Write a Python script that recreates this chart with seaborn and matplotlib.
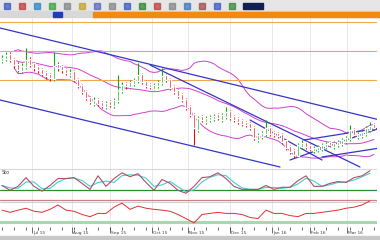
import numpy as np
import pandas as pd
import matplotlib
matplotlib.use("Agg")
import matplotlib.pyplot as plt
import seaborn as sns
from matplotlib.patches import Rectangle

# ---------------- data ----------------
opens = [139,141,146,141,136,129,133,141,137,134,131,128,126,121,136,134,131,125,129,121,
         115,109,103,96,101,98,93,99,94,99,109,117,113,116,119,126,119,116,111,114,
         117,125,121,114,110,106,101,94,86,70,84,78,80,81,86,80,83,89,84,82,
         80,78,77,73,60,63,66,73,68,67,66,60,54,50,44,53,58,55,49,50,
         51,53,58,53,55,56,58,61,71,63,64,66,70,76]
closes = [142,145,140,135,130,134,140,135,132,130,126,124,122,134,132,130,127,128,120,114,
          108,102,98,100,96,94,97,95,100,110,115,114,118,120,125,118,114,113,115,118,
          124,120,112,108,104,100,92,85,72,82,80,82,83,84,82,85,88,82,80,78,
          76,75,72,62,65,67,72,66,65,64,58,52,48,45,55,57,53,51,52,53,
          55,56,55,57,58,60,62,70,65,66,68,72,74,72]
highs = [145,148,148,142,138,137,152,143,138,135,132,129,127,148,138,135,132,131,130,122,
         116,110,104,103,102,99,99,100,102,125,118,118,120,122,137,127,120,117,117,120,
         132,126,122,115,111,107,102,95,87,84,85,84,85,86,87,87,93,90,85,83,
         81,79,78,74,67,69,80,74,69,68,67,61,55,51,57,60,59,56,54,55,
         57,58,59,59,60,62,64,75,72,68,70,74,78,77]
lows = [137,139,138,132,128,127,131,133,129,127,124,121,119,119,129,127,125,123,118,112,
        106,100,96,94,94,92,91,93,92,97,107,111,111,114,117,116,112,111,110,112,
        115,118,110,106,102,98,90,83,55,68,78,76,78,79,80,78,81,80,78,76,
        74,73,70,60,58,61,64,64,63,62,56,50,46,42,43,51,51,49,47,48,
        49,51,53,51,53,54,56,59,63,61,62,64,68,70]

stoch_k = [45,29,42,71,42,26,45,68,68,71,52,32,77,42,68,87,74,84,55,29,
           65,52,29,19,42,71,74,87,68,42,32,32,32,45,32,39,39,61,77,42,
           42,52,58,55,71,77,94]
rsi = [62,54,62,69,58,54,65,81,62,58,46,38,50,50,73,88,65,77,69,65,
       62,58,46,31,15,46,50,54,50,50,46,35,31,62,50,50,42,38,50,50,
       54,58,62,69,73,81,96]

levels = [178, 149, 120]   # horizontal orange levels

# trend lines: (x0, y0, x1, y1) in candle index / price units
trend_lines = [(-0.5, 172, 94.5, 80),
               (-0.5, 100, 69.5, 33),
               (37.0, 135, 89.5, 33),
               (62.0, 80, 80.0, 40),
               (72.0, 40, 94.5, 72),
               (75.5, 60, 94.5, 72),
               (80.0, 43, 94.5, 52)]

date_labels = ["Jul 15", "Aug 15", "Sep 15", "Oct 15", "Nov 15", "Dec 15", "Jan 16", "Feb 16", "Mar 16"]
date_pos = [7.5, 17.5, 27, 37.5, 46.5, 57, 67.5, 77, 86.25]

# ---------------- figure ----------------
sns.set_style("white")
plt.rcParams['font.family'] = ['DejaVu Sans']
W, H = 380, 240
fig = plt.figure(figsize=(3.8, 2.4), dpi=100)
fig.patch.set_facecolor("white")

def fr(x0, y0, x1, y1):
    return [x0 / W, 1 - y1 / H, (x1 - x0) / W, (y1 - y0) / H]

# toolbar
fig.add_artist(Rectangle((0, 1 - 11 / H), 1, 11 / H, transform=fig.transFigure, color="#e6e6e6", zorder=0))
icon_cols = ["#3050c0", "#c03030", "#2080c0", "#30a030", "#808080", "#c0a020", "#5060c0", "#808080",
             "#3050c0", "#208020", "#c03030", "#808080", "#3070c0", "#a04040", "#3050c0", "#308030"]
for k, c in enumerate(icon_cols):
    fig.add_artist(Rectangle(((4 + k * 15) / W, 1 - 9 / H), 6 / W, 6 / H, transform=fig.transFigure, color=c, alpha=0.7))
fig.add_artist(Rectangle((243 / W, 1 - 9 / H), 20 / W, 6 / H, transform=fig.transFigure, color="#102050"))
# tab bar
fig.add_artist(Rectangle((0, 1 - 17 / H), 1, 6 / H, transform=fig.transFigure, color="#d8d8d8", zorder=0))
fig.add_artist(Rectangle((93 / W, 1 - 17 / H), 287 / W, 5 / H, transform=fig.transFigure, color="#f08a10"))
fig.add_artist(Rectangle((53 / W, 1 - 16.5 / H), 9 / W, 4 / H, transform=fig.transFigure, color="#2040b0"))
# bottom bar
fig.add_artist(Rectangle((0, 0), 1, 4 / H, transform=fig.transFigure, color="#c8c8c8"))

x = np.arange(len(closes))
xlim = (-0.5, 93.75)

# main panel
ax = fig.add_axes(fr(0, 18, 377, 168))
df = pd.DataFrame({"i": x, "o": opens, "c": closes, "h": highs, "l": lows})
mid = df["c"].rolling(20, min_periods=4).mean()
sd = df["c"].rolling(20, min_periods=4).std()
bb = pd.DataFrame({"i": x, "mid": mid, "up": mid + 2.0 * sd, "lo": mid - 2.0 * sd})
for col in ["up", "mid", "lo"]:
    sns.lineplot(data=bb, x="i", y=col, ax=ax, color="#d040d0", lw=0.7)
for lv in levels:
    ax.axhline(lv, color="#f0a850", lw=0.8)
for gx in date_pos:
    ax.axvline(gx, color="#e4e4e4", lw=0.6, zorder=0)
for (x0, y0, x1, y1) in trend_lines:
    sns.lineplot(x=[x0, x1], y=[y0, y1], ax=ax, color="#3535c8", lw=0.9)
up = df["c"] >= df["o"]
gcol, rcol = "#10a810", "#e01010"
ax.vlines(df["i"][up], df["l"][up], df["h"][up], color=gcol, lw=0.8, zorder=3)
ax.vlines(df["i"][~up], df["l"][~up], df["h"][~up], color=rcol, lw=0.8, zorder=3)
body = (df["c"] - df["o"]).abs().clip(lower=0.8)
bottoms = df[["o", "c"]].min(axis=1)
ax.bar(df["i"][up], body[up], bottom=bottoms[up], width=0.7, color=gcol, zorder=4)
ax.bar(df["i"][~up], body[~up], bottom=bottoms[~up], width=0.7, color=rcol, zorder=4)
ax.set_xlim(*xlim)
ax.set_ylim(32, 182)
ax.set_axis_off()

# stochastic panel
ax2 = fig.add_axes(fr(0, 168, 377, 199))
xs = np.arange(0, len(closes), 2)[:len(stoch_k)]
sdf = pd.DataFrame({"i": xs, "k": stoch_k})
sdf["d"] = sdf["k"].rolling(2, min_periods=1).mean()
ax2.axhline(100, color="#d8d8d8", lw=0.8)
ax2.axhline(29, color="#2e8b2e", lw=0.9)
for gx in date_pos:
    ax2.axvline(gx, color="#e4e4e4", lw=0.6, zorder=0)
sns.lineplot(data=sdf, x="i", y="d", ax=ax2, color="#40d0d0", lw=0.8)
sns.lineplot(data=sdf, x="i", y="k", ax=ax2, color="#b05060", lw=0.8)
ax2.text(0.005, 0.82, "Sto", transform=ax2.transAxes, fontsize=3.5, color="#404040")
ax2.set_xlim(*xlim)
ax2.set_ylim(0, 103)
ax2.set_axis_off()

# RSI panel
ax3 = fig.add_axes(fr(0, 199, 377, 227))
rdf = pd.DataFrame({"i": xs, "r": rsi})
ax3.axhline(100, color="#d08080", lw=0.9)
ax3.axhline(92, color="#c8c8c8", lw=0.6)
ax3.axhline(20, color="#a8d8b0", lw=2.2)
for gx in date_pos:
    ax3.axvline(gx, color="#e4e4e4", lw=0.6, zorder=0)
sns.lineplot(data=rdf, x="i", y="r", ax=ax3, color="#e03030", lw=0.7)
ax3.set_xlim(*xlim)
ax3.set_ylim(0, 103)
ax3.set_axis_off()

# date strip
ax4 = fig.add_axes(fr(0, 227, 377, 236))
ax4.set_xlim(*xlim)
ax4.set_ylim(0, 1)
ax4.set_axis_off()
ticks = np.arange(0, 94, 1.5)
ax4.vlines(ticks[::2], 0.72, 0.95, color="#303030", lw=0.5)
for p, lab in zip(date_pos, date_labels):
    ax4.vlines(p, 0.3, 0.95, color="#303030", lw=0.5)
    ax4.text(p + 0.3, 0.15, lab, fontsize=3.2, color="#404040", ha="left", va="bottom")

fig.savefig("out.png", dpi=100)
